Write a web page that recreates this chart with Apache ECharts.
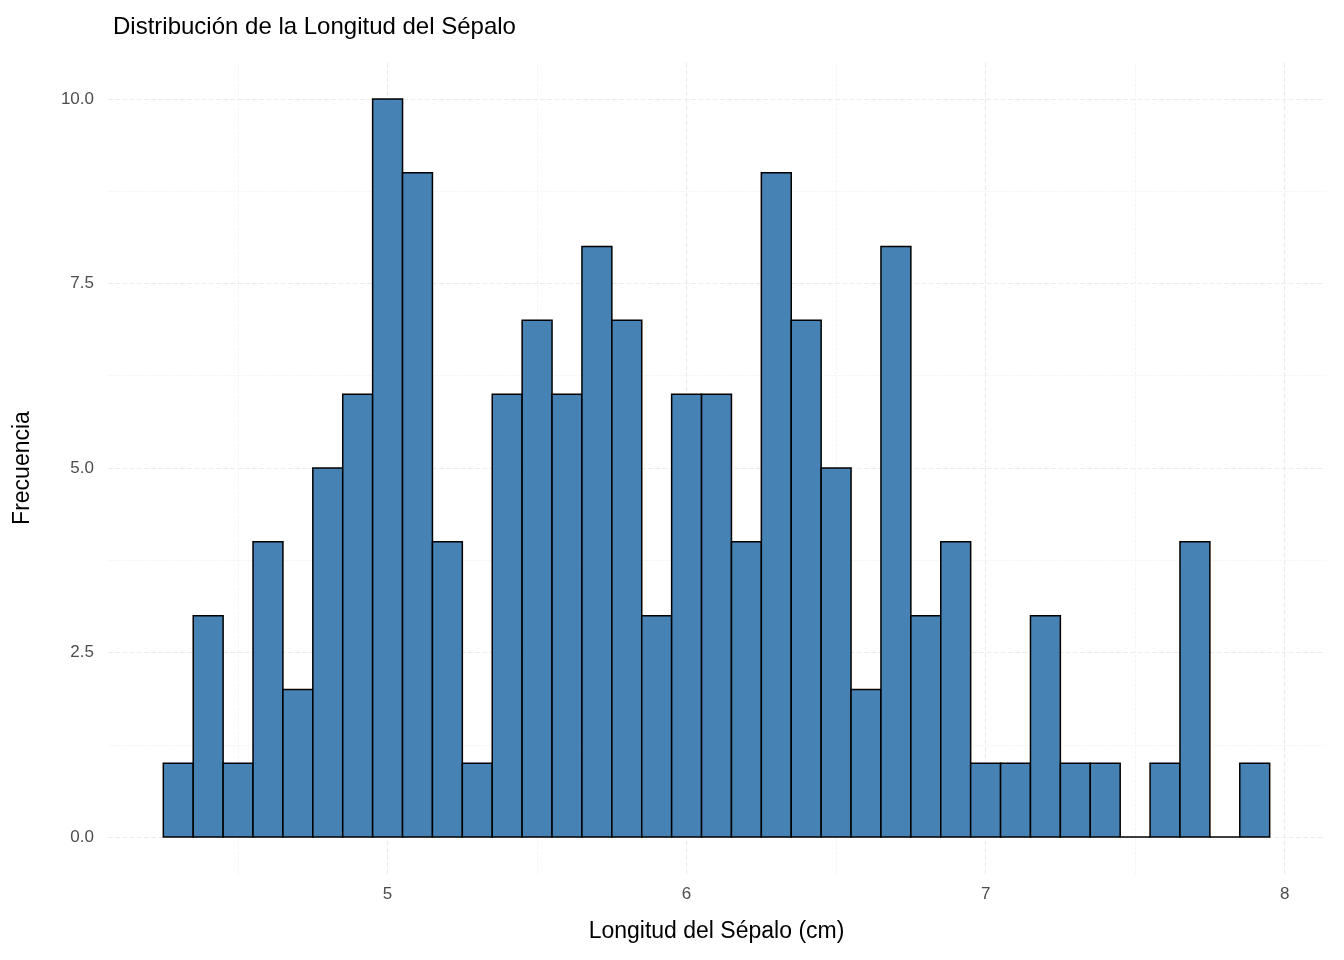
<!DOCTYPE html>
<html><head><meta charset="utf-8">
<script src="https://cdn.jsdelivr.net/npm/echarts@6/dist/echarts.min.js"></script>
<style>html,body{margin:0;background:#fff}#c{width:1344px;height:960px}</style>
</head><body><div id="c"></div>
<script>
// centros de cada intervalo (ancho 0.1) y frecuencias
var binCenters = [4.3,4.4,4.5,4.6,4.7,4.8,4.9,5.0,5.1,5.2,5.3,5.4,5.5,5.6,5.7,5.8,5.9,6.0,6.1,6.2,6.3,6.4,6.5,6.6,6.7,6.8,6.9,7.0,7.1,7.2,7.3,7.4,7.5,7.6,7.7,7.8,7.9];
var counts = [1,3,1,4,2,5,6,10,9,4,1,6,7,6,8,7,3,6,6,4,9,7,5,2,8,3,4,1,1,3,1,1,0,1,4,0,1];
var binWidth = 0.1;
var xTicks = [5,6,7,8];
var xMinor = [4.5,5.5,6.5,7.5];
var yTicks = [0,2.5,5,7.5,10];
var yMinor = [1.25,3.75,6.25,8.75];

var chart = echarts.init(document.getElementById('c'));
var data = binCenters.map(function (c, i) { return [c, counts[i]]; });
var gridLines = [];
xTicks.forEach(function (v) { gridLines.push({ xAxis: v, lineStyle: { color: '#ebebeb', width: 1.2 } }); });
xMinor.forEach(function (v) { gridLines.push({ xAxis: v, lineStyle: { color: '#f2f2f2', width: 0.8 } }); });
yTicks.forEach(function (v) { gridLines.push({ yAxis: v, lineStyle: { color: '#ebebeb', width: 1.2 } }); });
yMinor.forEach(function (v) { gridLines.push({ yAxis: v, lineStyle: { color: '#f2f2f2', width: 0.8 } }); });

chart.setOption({
    animation: false,
    textStyle: { fontFamily: 'Liberation Sans' },
    title: {
        text: 'Distribución de la Longitud del Sépalo',
        left: 108, top: 10,
        textStyle: { fontSize: 24, fontWeight: 'normal', color: '#000' }
    },
    grid: { left: 108, right: 19, top: 62, bottom: 86 },
    xAxis: {
        type: 'value', min: 4.065, max: 8.135,
        name: 'Longitud del Sépalo (cm)', nameLocation: 'middle', nameGap: 46,
        nameTextStyle: { fontSize: 23, color: '#000' },
        axisLine: { show: false }, axisTick: { show: false }, splitLine: { show: false },
        axisLabel: { customValues: xTicks, fontSize: 17, color: '#4d4d4d', margin: 12 }
    },
    yAxis: {
        type: 'value', min: -0.5, max: 10.5,
        name: 'Frecuencia', nameLocation: 'middle', nameGap: 74,
        nameTextStyle: { fontSize: 23, color: '#000' },
        axisLine: { show: false }, axisTick: { show: false }, splitLine: { show: false },
        axisLabel: {
            customValues: yTicks, fontSize: 17, color: '#4d4d4d', margin: 14,
            formatter: function (v) { return v.toFixed(1); }
        }
    },
    series: [{
        type: 'custom',
        data: data,
        renderItem: function (params, api) {
            var c = api.value(0), n = api.value(1);
            var p0 = api.coord([c - binWidth / 2, n]);
            var p1 = api.coord([c + binWidth / 2, 0]);
            return {
                type: 'rect',
                shape: { x: p0[0], y: p0[1], width: p1[0] - p0[0], height: p1[1] - p0[1] },
                style: { fill: '#4682b4', stroke: '#000', lineWidth: 1.5 }
            };
        },
        markLine: { silent: true, symbol: 'none', label: { show: false }, z: -1, data: gridLines }
    }]
});
</script></body></html>
